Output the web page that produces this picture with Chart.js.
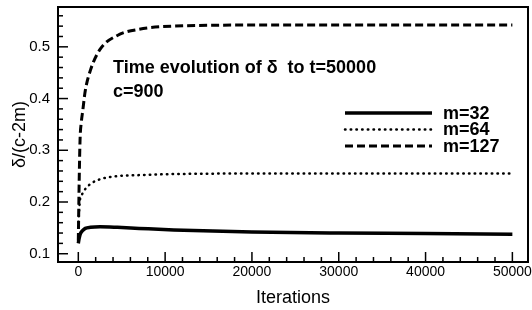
<!DOCTYPE html>
<html>
<head>
<meta charset="utf-8">
<script src="https://cdn.jsdelivr.net/npm/chart.js@4.4.0/dist/chart.umd.min.js"></script>
<style>
  html, body { margin: 0; padding: 0; background: #fff; }
  #wrap { width: 532px; height: 310px; }
</style>
</head>
<body>
<div id="wrap"><canvas id="myChart" width="532" height="310"></canvas></div>
<script>
// data
const iterations = [0, 100, 200, 350, 500, 800, 1400, 2500, 4500, 7000, 11000, 20000, 30000, 40000, 50000];
const m32  = [0.120, 0.130, 0.137, 0.142, 0.145, 0.149, 0.151, 0.152, 0.151, 0.149, 0.146, 0.142, 0.140, 0.139, 0.1375];
const m64  = [0.150, 0.185, 0.205, 0.212, 0.217, 0.225, 0.235, 0.244, 0.250, 0.252, 0.254, 0.255, 0.255, 0.255, 0.255];
const m127 = [0.125, 0.240, 0.320, 0.355, 0.375, 0.415, 0.455, 0.495, 0.522, 0.534, 0.540, 0.542, 0.542, 0.542, 0.542];
const seriesLabels = ["m=32", "m=64", "m=127"];
const xTicks = [0, 10000, 20000, 30000, 40000, 50000];
const yTicks = [0.1, 0.2, 0.3, 0.4, 0.5];
const noteLines = ["Time evolution of \u03b4  to t=50000", "c=900"];

const FONT = "'Liberation Sans', Arial, Helvetica, sans-serif";

function pts(vals) {
    return iterations.map((x, i) => ({ x: x, y: vals[i] }));
}

// inward ticks, frame, note text and legend
const decor = {
    id: "decor",
    afterDraw(chart) {
        const ctx = chart.ctx;
        const a = chart.chartArea;
        const xs = chart.scales.x, ys = chart.scales.y;
        ctx.save();
        ctx.strokeStyle = "#000";
        ctx.lineWidth = 1.5;
        // x ticks
        for (let v = 0; v <= 50000; v += 2000) {
            const px = xs.getPixelForValue(v);
            const len = v % 10000 === 0 ? 10 : 5;
            ctx.beginPath();
            ctx.moveTo(px, a.bottom);
            ctx.lineTo(px, a.bottom - len);
            ctx.stroke();
        }
        // y ticks
        for (let k = 5; k <= 28; k++) {
            const v = k * 0.02;
            if (v < ys.min || v > ys.max) continue;
            const py = ys.getPixelForValue(v);
            const len = k % 5 === 0 ? 10 : 5;
            ctx.beginPath();
            ctx.moveTo(a.left, py);
            ctx.lineTo(a.left + len, py);
            ctx.stroke();
        }
        // frame
        ctx.lineWidth = 2;
        ctx.strokeRect(a.left, a.top, a.right - a.left, a.bottom - a.top);

        // note
        ctx.fillStyle = "#000";
        ctx.font = "bold 18px " + FONT;
        ctx.textBaseline = "middle";
        ctx.textAlign = "left";
        ctx.fillText(noteLines[0], 113, 68);
        ctx.fillText(noteLines[1], 113, 92);

        // legend
        const rows = [113, 129.5, 146];
        chart.data.datasets.forEach((ds, i) => {
            ctx.save();
            ctx.lineWidth = ds.borderWidth;
            ctx.setLineDash(ds.borderDash || []);
            ctx.lineCap = ds.borderCapStyle || "butt";
            ctx.beginPath();
            ctx.moveTo(345, rows[i]);
            ctx.lineTo(432, rows[i]);
            ctx.stroke();
            ctx.restore();
            ctx.fillText(ds.label, 443, rows[i] + 1);
        });
        ctx.restore();
    }
};

const ctx = document.getElementById("myChart").getContext("2d");

const myChart = new Chart(ctx, {
    type: "line",
    data: {
        datasets: [
            {
                label: seriesLabels[0],
                data: pts(m32),
                borderColor: "#000",
                borderWidth: 3.5,
                pointRadius: 0,
                cubicInterpolationMode: "monotone",
            },
            {
                label: seriesLabels[1],
                data: pts(m64),
                borderColor: "#000",
                borderWidth: 2.5,
                borderDash: [0.5, 5.2],
                borderCapStyle: "round",
                pointRadius: 0,
                cubicInterpolationMode: "monotone",
            },
            {
                label: seriesLabels[2],
                data: pts(m127),
                borderColor: "#000",
                borderWidth: 3,
                borderDash: [8, 4],
                pointRadius: 0,
                cubicInterpolationMode: "monotone",
            },
        ],
    },
    options: {
        responsive: false,
        animation: false,
        layout: { padding: { top: 7, right: 4, left: 0, bottom: 0 } },
        plugins: {
            legend: { display: false },
            tooltip: { enabled: false },
        },
        scales: {
            x: {
                type: "linear",
                min: -2340,
                max: 51800,
                grid: { display: false, drawTicks: false },
                border: { display: false },
                afterBuildTicks: (s) => { s.ticks = xTicks.map(v => ({ value: v })); },
                afterFit: (s) => { s.height = 48; s.paddingLeft = 0; s.paddingRight = 0; },
                ticks: {
                    color: "#000",
                    padding: 2,
                    maxRotation: 0,
                    font: { family: FONT, size: 14 },
                    callback: (v) => String(v),
                },
                title: {
                    display: true,
                    text: "Iterations",
                    color: "#000",
                    font: { family: FONT, size: 18 },
                    padding: { top: 0, bottom: 1 },
                },
            },
            y: {
                type: "linear",
                min: 0.084,
                max: 0.577,
                grid: { display: false, drawTicks: false },
                border: { display: false },
                afterBuildTicks: (s) => { s.ticks = yTicks.map(v => ({ value: v })); },
                afterFit: (s) => { s.width = 58; s.paddingTop = 0; s.paddingBottom = 0; },
                ticks: {
                    color: "#000",
                    padding: 8,
                    font: { family: FONT, size: 15 },
                    callback: (v) => v.toFixed(1),
                },
                title: {
                    display: true,
                    text: "\u03b4/(c-2m)",
                    color: "#000",
                    font: { family: FONT, size: 18 },
                    padding: { top: 9, bottom: 0 },
                },
            },
        },
    },
    plugins: [decor],
});
</script>
</body>
</html>
